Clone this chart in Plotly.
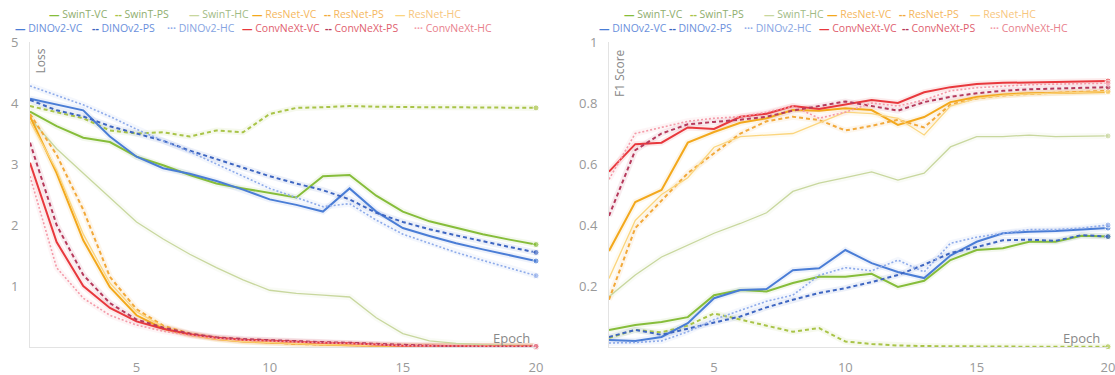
import plotly.graph_objects as go

epochs = list(range(1, 21))

# ---- Loss (left panel) ----
loss_swint_vc = [3.86, 3.62, 3.43, 3.36, 3.12, 2.98, 2.82, 2.68, 2.6, 2.52, 2.45, 2.8, 2.82, 2.48, 2.22, 2.06, 1.95, 1.85, 1.76, 1.68]
loss_swint_ps = [3.95, 3.85, 3.75, 3.55, 3.5, 3.52, 3.45, 3.55, 3.52, 3.82, 3.92, 3.93, 3.95, 3.94, 3.93, 3.93, 3.93, 3.93, 3.93, 3.92]
loss_swint_hc = [3.75, 3.25, 2.85, 2.45, 2.05, 1.77, 1.52, 1.3, 1.1, 0.93, 0.88, 0.85, 0.82, 0.48, 0.22, 0.1, 0.06, 0.04, 0.03, 0.02]
loss_resnet_vc = [3.78, 2.85, 1.75, 0.98, 0.52, 0.3, 0.2, 0.13, 0.09, 0.07, 0.05, 0.04, 0.03, 0.02, 0.02, 0.01, 0.01, 0.01, 0.01, 0.01]
loss_resnet_ps = [3.82, 3.15, 2.25, 1.15, 0.62, 0.35, 0.22, 0.14, 0.1, 0.07, 0.05, 0.04, 0.03, 0.02, 0.02, 0.01, 0.01, 0.01, 0.01, 0.01]
loss_resnet_hc = [3.7, 2.9, 1.85, 1.05, 0.58, 0.33, 0.2, 0.13, 0.09, 0.07, 0.05, 0.04, 0.03, 0.02, 0.02, 0.01, 0.01, 0.01, 0.01, 0.01]
loss_dino_vc = [4.07, 3.98, 3.88, 3.45, 3.12, 2.93, 2.84, 2.72, 2.58, 2.42, 2.33, 2.22, 2.6, 2.22, 1.95, 1.82, 1.7, 1.6, 1.5, 1.41]
loss_dino_ps = [4.05, 3.88, 3.78, 3.62, 3.5, 3.38, 3.22, 3.08, 2.93, 2.8, 2.68, 2.57, 2.42, 2.2, 2.05, 1.93, 1.83, 1.73, 1.64, 1.55]
loss_dino_hc = [4.28, 4.12, 3.97, 3.78, 3.57, 3.38, 3.2, 3.0, 2.8, 2.6, 2.45, 2.3, 2.35, 2.08, 1.85, 1.7, 1.55, 1.42, 1.3, 1.17]
loss_conv_vc = [3.02, 1.72, 1.0, 0.64, 0.42, 0.3, 0.21, 0.15, 0.12, 0.1, 0.08, 0.07, 0.06, 0.04, 0.02, 0.02, 0.01, 0.01, 0.01, 0.01]
loss_conv_ps = [3.35, 2.0, 1.18, 0.72, 0.45, 0.32, 0.22, 0.16, 0.13, 0.11, 0.09, 0.08, 0.07, 0.05, 0.03, 0.02, 0.01, 0.01, 0.01, 0.01]
loss_conv_hc = [2.8, 1.3, 0.8, 0.52, 0.36, 0.26, 0.19, 0.14, 0.11, 0.09, 0.08, 0.07, 0.06, 0.04, 0.02, 0.02, 0.01, 0.01, 0.01, 0.01]

# ---- F1 score (right panel) ----
f1_swint_vc = [0.056, 0.072, 0.082, 0.098, 0.17, 0.187, 0.182, 0.21, 0.23, 0.23, 0.24, 0.197, 0.217, 0.285, 0.318, 0.324, 0.345, 0.345, 0.365, 0.362]
f1_swint_ps = [0.03, 0.056, 0.048, 0.07, 0.11, 0.09, 0.07, 0.05, 0.062, 0.018, 0.01, 0.005, 0.003, 0.002, 0.001, 0.001, 0.001, 0.001, 0.001, 0.001]
f1_swint_hc = [0.165, 0.236, 0.295, 0.334, 0.373, 0.405, 0.44, 0.51, 0.537, 0.555, 0.574, 0.547, 0.57, 0.656, 0.69, 0.69, 0.695, 0.69, 0.692, 0.692]
f1_resnet_vc = [0.315, 0.475, 0.515, 0.67, 0.705, 0.735, 0.75, 0.777, 0.775, 0.783, 0.777, 0.728, 0.754, 0.803, 0.82, 0.828, 0.832, 0.834, 0.835, 0.836]
f1_resnet_ps = [0.155, 0.39, 0.48, 0.57, 0.635, 0.7, 0.74, 0.755, 0.744, 0.71, 0.725, 0.745, 0.72, 0.795, 0.815, 0.825, 0.83, 0.834, 0.837, 0.84]
f1_resnet_hc = [0.225, 0.415, 0.5, 0.555, 0.655, 0.69, 0.695, 0.7, 0.735, 0.77, 0.765, 0.75, 0.695, 0.79, 0.815, 0.825, 0.83, 0.833, 0.835, 0.837]
f1_dino_vc = [0.023, 0.02, 0.033, 0.078, 0.16, 0.187, 0.19, 0.252, 0.258, 0.318, 0.275, 0.246, 0.226, 0.3, 0.345, 0.373, 0.378, 0.38, 0.385, 0.39]
f1_dino_ps = [0.033, 0.056, 0.04, 0.06, 0.078, 0.1, 0.13, 0.155, 0.177, 0.193, 0.213, 0.236, 0.27, 0.308, 0.328, 0.35, 0.352, 0.348, 0.367, 0.362]
f1_dino_hc = [0.013, 0.015, 0.02, 0.05, 0.09, 0.12, 0.15, 0.17, 0.235, 0.26, 0.25, 0.285, 0.246, 0.34, 0.36, 0.373, 0.385, 0.385, 0.39, 0.4]
f1_conv_vc = [0.575, 0.665, 0.67, 0.72, 0.715, 0.755, 0.765, 0.79, 0.78, 0.795, 0.81, 0.8, 0.835, 0.852, 0.862, 0.866, 0.868, 0.87, 0.871, 0.872]
f1_conv_ps = [0.43, 0.645, 0.7, 0.73, 0.738, 0.745, 0.755, 0.775, 0.79, 0.805, 0.79, 0.775, 0.803, 0.82, 0.832, 0.84, 0.845, 0.848, 0.85, 0.852]
f1_conv_hc = [0.55, 0.7, 0.72, 0.74, 0.75, 0.755, 0.77, 0.79, 0.75, 0.77, 0.8, 0.79, 0.81, 0.84, 0.85, 0.855, 0.86, 0.862, 0.864, 0.865]

names = ["SwinT-VC", "SwinT-PS", "SwinT-HC", "ResNet-VC", "ResNet-PS", "ResNet-HC",
         "DINOv2-VC", "DINOv2-PS", "DINOv2-HC", "ConvNeXt-VC", "ConvNeXt-PS", "ConvNeXt-HC"]
loss_series = [loss_swint_vc, loss_swint_ps, loss_swint_hc, loss_resnet_vc, loss_resnet_ps, loss_resnet_hc,
               loss_dino_vc, loss_dino_ps, loss_dino_hc, loss_conv_vc, loss_conv_ps, loss_conv_hc]
f1_series = [f1_swint_vc, f1_swint_ps, f1_swint_hc, f1_resnet_vc, f1_resnet_ps, f1_resnet_hc,
             f1_dino_vc, f1_dino_ps, f1_dino_hc, f1_conv_vc, f1_conv_ps, f1_conv_hc]

colors = ["#86bd3a", "#a9c448", "#c8d79e", "#f3a81c", "#f2a93b", "#fbd57e",
          "#4a7dd6", "#3e66c2", "#8eabea", "#e8383d", "#b63a5c", "#f49aa8"]
text_colors = ["#8fae6e", "#8fae6e", "#9fbb85", "#f5b75e", "#f5b75e", "#f7c67e",
               "#6a8fdc", "#6a8fdc", "#86a4e2", "#e0606e", "#e0606e", "#e8808c"]
dashes = ["solid", "4px,3px", "solid", "solid", "4px,3px", "solid",
          "solid", "4px,3px", "2px,2px", "solid", "4px,3px", "2px,2px"]
widths = [2, 2, 1.3, 2, 2, 1.3, 2, 2, 1.6, 2, 2, 1.6]
legend_symbols = ["—", "--", "—", "—", "--", "—", "—", "--", "···", "—", "--", "···"]

W, H = 1115, 375
fig = go.Figure()

marker_sizes = [0] * 19 + [6]
for panel, series, xa, ya in [(0, loss_series, "x", "y"), (1, f1_series, "x2", "y2")]:
    for i, vals in enumerate(series):
        fig.add_trace(go.Scatter(x=epochs, y=vals, xaxis=xa, yaxis=ya, mode="lines",
                                 line=dict(color=colors[i], width=6), opacity=0.09,
                                 showlegend=False, hoverinfo="skip"))
    for i, vals in enumerate(series):
        fig.add_trace(go.Scatter(x=epochs, y=vals, xaxis=xa, yaxis=ya, name=names[i],
                                 mode="lines+markers",
                                 line=dict(color=colors[i], width=widths[i], dash=dashes[i]),
                                 marker=dict(size=marker_sizes, color=colors[i]),
                                 cliponaxis=False, showlegend=False))


def px_x(p):
    return p / W


def px_y(p):
    return 1 - p / H


annotations = []
left_row1 = [47, 113, 187, 250, 322, 393]
left_row2 = [13, 90, 165, 240, 323, 412]
right_row1 = [p + 575 for p in left_row1]
right_row2 = [597, 667, 742, 817, 900, 988]
for rows in [(left_row1, left_row2), (right_row1, right_row2)]:
    for j in range(12):
        xpx = rows[0][j] if j < 6 else rows[1][j - 6]
        ypx = 14 if j < 6 else 28
        sym = legend_symbols[j]
        annotations.append(dict(
            x=px_x(xpx), y=px_y(ypx), xref="paper", yref="paper",
            xanchor="left", yanchor="middle", showarrow=False,
            text=f"<span style='color:{colors[j]}'><b>{sym}</b></span> {names[j]}",
            font=dict(family="Open Sans", size=10.5, color=text_colors[j])))

annotations += [
    dict(x=px_x(40), y=px_y(47), xref="paper", yref="paper", text="Loss", textangle=-90,
         xanchor="center", yanchor="top", showarrow=False, font=dict(family="Open Sans", size=12, color="#888")),
    dict(x=px_x(620), y=px_y(47), xref="paper", yref="paper", text="F1 Score", textangle=-90,
         xanchor="center", yanchor="top", showarrow=False, font=dict(family="Open Sans", size=12, color="#888")),
    dict(x=px_x(532), y=px_y(338), xref="paper", yref="paper", text="Epoch",
         xanchor="right", yanchor="middle", showarrow=False, font=dict(family="Open Sans", size=13, color="#888")),
    dict(x=px_x(1102), y=px_y(338), xref="paper", yref="paper", text="Epoch",
         xanchor="right", yanchor="middle", showarrow=False, font=dict(family="Open Sans", size=13, color="#888")),
]

ydom = [px_y(347), px_y(42)]
axis_common = dict(showgrid=False, zeroline=False, showline=True, linecolor="#e3e3e3", linewidth=1,
                   ticks="", automargin=False, ticklabeloverflow="allow",
                   tickfont=dict(family="Open Sans", size=13, color="#999"))

fig.update_layout(
    template="none",
    width=W, height=H, margin=dict(l=0, r=0, t=0, b=0, pad=0), autosize=False,
    paper_bgcolor="white", plot_bgcolor="white",
    font=dict(family="Open Sans"),
    xaxis=dict(domain=[px_x(30), px_x(536)], range=[1, 20], tickvals=[5, 10, 15, 20], anchor="y",
               ticklabelstandoff=8, **axis_common),
    yaxis=dict(domain=ydom, range=[0, 5], tickvals=[1, 2, 3, 4, 5], anchor="x",
               ticklabelstandoff=8, **axis_common),
    xaxis2=dict(domain=[px_x(609), px_x(1108)], range=[1, 20], tickvals=[5, 10, 15, 20], anchor="y2",
                ticklabelstandoff=8, **axis_common),
    yaxis2=dict(domain=ydom, range=[0, 1], tickvals=[0.2, 0.4, 0.6, 0.8, 1], ticktext=["0.2", "0.4", "0.6", "0.8", "1"],
                anchor="x2", ticklabelstandoff=8, **axis_common),
    annotations=annotations,
    showlegend=False,
)

fig.write_html("out.html", config={"displayModeBar": False},
               post_script="document.body.style.margin='0';document.body.style.overflow='hidden';")
